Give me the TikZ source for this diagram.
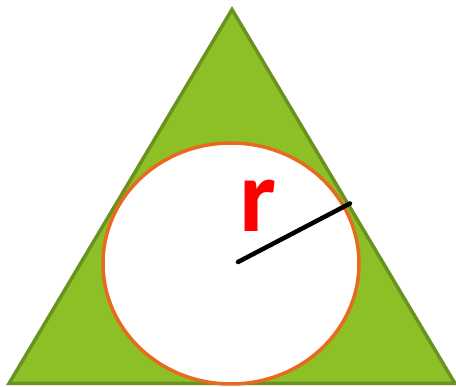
\documentclass[tikz,border=0pt]{standalone}
\usetikzlibrary{shapes.geometric}
\usepackage{fontspec}
\setmainfont{Carlito}
\definecolor{trifill}{HTML}{8DBF27}
\definecolor{tridraw}{HTML}{6A9220}
\definecolor{circdraw}{HTML}{E86A1E}
\begin{document}
\begin{tikzpicture}[x=1pt,y=-1pt,
  tri/.style={fill=trifill,draw=tridraw,line width=3.5pt,line join=miter},
  incirc/.style={fill=white,draw=circdraw,line width=3.5pt},
  radius line/.style={line width=4.5pt,line cap=round,black},
  rlabel/.style={text=red,font=\bfseries\fontsize{104}{104}\selectfont,inner sep=0pt,anchor=base}]
\useasboundingbox (0,0) rectangle (456,387);
\coordinate (A) at (232,9.5);
\coordinate (B) at (9,383.5);
\coordinate (C) at (455,383.5);
\draw[tri] (A) -- (B) -- (C) -- cycle;
\node[incirc,ellipse,minimum width=256,minimum height=241,inner sep=0pt] (O) at (231,263.5) {};
\coordinate (ctr) at (238,262);
\coordinate (T) at (350,203.5);
\draw[radius line] (ctr) -- (T);
\node[rlabel] (r) at (257.5,232) {r};
\end{tikzpicture}
\end{document}
